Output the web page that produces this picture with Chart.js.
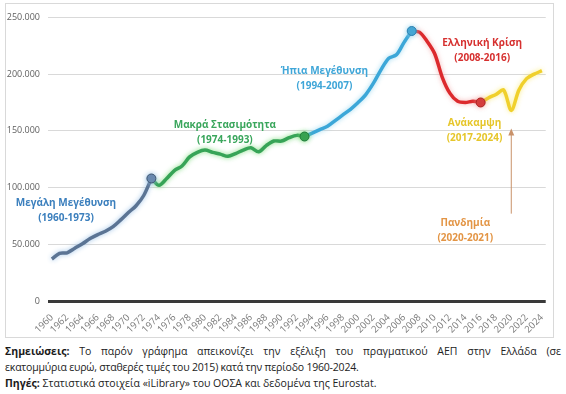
<!DOCTYPE html>
<html lang="el">
<head>
    <meta charset="UTF-8">
    <title>ΑΕΠ Ελλάδας 1960-2024</title>
    <style>
        body { margin: 0; background: #fff; width: 566px; height: 394px; position: relative; font-family: 'Open Sans', sans-serif; }
        .chartbox { position: absolute; left: 5px; top: 3px; width: 547px; height: 333px; border: 1px solid #d9d9d9; }
        .notes { position: absolute; left: 5px; top: 343px; width: 556px; font-size: 10.5px; line-height: 16px; color: #222; }
        .notes b { color: #1a1a1a; }
        .just { text-align: justify; text-align-last: justify; }
        .tight { letter-spacing: -0.2px; }
    </style>
</head>
<body>
<!-- περιοχή γραφήματος -->
<div class="chartbox">
    <canvas id="myChart"></canvas>
</div>
<div class="notes">
    <div class="just"><b>Σημειώσεις:</b> Το παρόν γράφημα απεικονίζει την εξέλιξη του πραγματικού ΑΕΠ στην Ελλάδα (σε</div>
    <div class="tight">εκατομμύρια ευρώ, σταθερές τιμές του 2015) κατά την περίοδο 1960-2024.</div>
    <div><b>Πηγές:</b> Στατιστικά στοιχεία «iLibrary» του ΟΟΣΑ και δεδομένα της Eurostat.</div>
</div>

<script src="https://cdn.jsdelivr.net/npm/chart.js"></script>
<script>
    // έτη
    const years = [];
    for (let y = 1960; y <= 2024; y++) years.push(String(y));

    // πραγματικό ΑΕΠ (εκατ. ευρώ, τιμές 2015)
    const gdp1960s = [37000, 42000, 42500, 46500, 50500, 55000, 58500, 61500, 65500, 71500];
    const gdp1970s = [78000, 84000, 93000, 108000, 102000, 108000, 115000, 119000, 127000, 131000];
    const gdp1980s = [133000, 131000, 129500, 127500, 130000, 133000, 135000, 131500, 137000, 141000];
    const gdp1990s = [141000, 144000, 146000, 145000, 148000, 151000, 154000, 159000, 164000, 169000];
    const gdp2000s = [175000, 182000, 192000, 204000, 214000, 217000, 228000, 238000, 237000, 229000];
    const gdp2010s = [218000, 197000, 183000, 176000, 175000, 176000, 175000, 179000, 182000, 186000];
    const gdp2020s = [168000, 186000, 196000, 200000, 203000];
    const gdp = [...gdp1960s, ...gdp1970s, ...gdp1980s, ...gdp1990s, ...gdp2000s, ...gdp2010s, ...gdp2020s];

    // φάσεις: πρώτο και τελευταίο έτος κάθε τμήματος
    const phaseNames = ['Μεγάλη Μεγέθυνση', 'Μακρά Στασιμότητα', 'Ήπια Μεγέθυνση', 'Ελληνική Κρίση', 'Ανάκαμψη'];
    const phaseFrom = [1960, 1973, 1993, 2007, 2016];
    const phaseTo = [1973, 1993, 2007, 2016, 2024];
    const phaseEndMarker = [true, true, true, true, false];

    const yTicks = [0, 50000, 100000, 150000, 200000, 250000];

    // χρώματα
    const lineColors = ['#5b7494', '#37a457', '#3ca7d8', '#dc2a2d', '#f0d02c'];
    const glowColors = ['rgba(150,190,230,0.9)', 'rgba(120,220,120,0.9)', 'rgba(150,215,240,0.9)', 'rgba(240,150,150,0.7)', 'rgba(250,235,120,0.9)'];
    const pointColors = ['#6482a8', '#2f9a4c', '#3a9fd0', '#d23434', '#f0d02c'];
    const pointEdge = ['#3e5570', '#1f7a38', '#2a7fb0', '#a82222', '#c0a020'];

    const datasets = phaseNames.map((name, i) => {
        const a = phaseFrom[i] - 1960, b = phaseTo[i] - 1960;
        return {
            label: name,
            data: gdp.map((v, k) => (k >= a && k <= b ? v : null)),
            borderColor: lineColors[i],
            backgroundColor: pointColors[i],
            borderWidth: 3.5,
            tension: 0.3,
            glowColor: glowColors[i],
            pointRadius: gdp.map((v, k) => (phaseEndMarker[i] && k === b ? 4.5 : 0)),
            pointBorderColor: pointEdge[i],
            pointBorderWidth: 1,
            spanGaps: false
        };
    });

    // λάμψη γύρω από τις γραμμές
    const glow = {
        id: 'glow',
        beforeDatasetDraw(chart, args) {
            const ctx = chart.ctx;
            ctx.save();
            ctx.shadowColor = chart.data.datasets[args.index].glowColor;
            ctx.shadowBlur = 5;
        },
        afterDatasetDraw(chart) { chart.ctx.restore(); }
    };

    // ετικέτες φάσεων (θέση σε δείκτη έτους και τιμή)
    const notes = [
        { t: ['Μεγάλη Μεγέθυνση', '(1960-1973)'], x: 1.85, y: 86000, c: '#3b7fbd' },
        { t: ['Μακρά Στασιμότητα', '(1974-1993)'], x: 22.6, y: 155000, c: '#3aa65c' },
        { t: ['Ήπια Μεγέθυνση', '(1994-2007)'], x: 35.6, y: 203000, c: '#3fa6d8' },
        { t: ['Ελληνική Κρίση', '(2008-2016)'], x: 56.2, y: 227000, c: '#d6302f' },
        { t: ['Ανάκαμψη', '(2017-2024)'], x: 55.2, y: 157000, c: '#e6c62a' },
        { t: ['Πανδημία', '(2020-2021)'], x: 54, y: 68600, c: '#e39545' }
    ];
    const labels = {
        id: 'labels',
        afterDatasetsDraw(chart) {
            const { ctx, scales: { x, y } } = chart;
            ctx.save();
            // βέλος πανδημίας
            const ax = x.getPixelForValue(60);
            const y0 = y.getPixelForValue(77000), y1 = y.getPixelForValue(152000);
            ctx.strokeStyle = '#c9926a';
            ctx.fillStyle = '#c9926a';
            ctx.lineWidth = 1;
            ctx.beginPath(); ctx.moveTo(ax, y0); ctx.lineTo(ax, y1 + 5); ctx.stroke();
            ctx.beginPath(); ctx.moveTo(ax, y1); ctx.lineTo(ax - 3, y1 + 7); ctx.lineTo(ax + 3, y1 + 7); ctx.closePath(); ctx.fill();

            ctx.textAlign = 'center';
            ctx.textBaseline = 'middle';
            ctx.font = "bold 10px 'Open Sans', sans-serif";
            notes.forEach(n => {
                const px = x.getPixelForValue(n.x), py = y.getPixelForValue(n.y);
                ctx.fillStyle = n.c;
                n.t.forEach((s, k) => ctx.fillText(s, px, py + k * 15));
            });
            ctx.restore();
        }
    };

    const ctx = document.getElementById('myChart');
    new Chart(ctx, {
        type: 'line',
        data: { labels: years, datasets: datasets },
        plugins: [glow, labels],
        options: {
            responsive: true,
            maintainAspectRatio: false,
            animation: false,
            layout: { padding: { top: 13, right: 5, left: 0, bottom: 0 } },
            plugins: { legend: { display: false }, tooltip: { enabled: false } },
            scales: {
                x: {
                    offset: true,
                    grid: { display: false },
                    border: { display: false },
                    afterFit: s => { s.height = 36; },
                    ticks: {
                        autoSkip: false,
                        minRotation: 45,
                        maxRotation: 45,
                        padding: 3,
                        color: '#7a7a7a',
                        font: { family: "'Open Sans', sans-serif", size: 9.5 },
                        callback: (v, i) => (i % 2 === 0 ? years[i] : '')
                    }
                },
                y: {
                    min: 0,
                    max: 250000,
                    afterFit: s => { s.width = 42; },
                    afterBuildTicks: s => { s.ticks = yTicks.map(v => ({ value: v })); },
                    border: { display: false },
                    grid: {
                        drawTicks: false,
                        color: c => (c.tick && c.tick.value === 0 ? '#3a3a3a' : '#d9d9d9'),
                        lineWidth: c => (c.tick && c.tick.value === 0 ? 3 : 1)
                    },
                    ticks: {
                        padding: 8,
                        color: '#5f5f5f',
                        font: { family: "'Open Sans', sans-serif", size: 9 },
                        callback: v => (v === 0 ? '0' : v.toLocaleString('de-DE'))
                    }
                }
            }
        }
    });
</script>
</body>
</html>
